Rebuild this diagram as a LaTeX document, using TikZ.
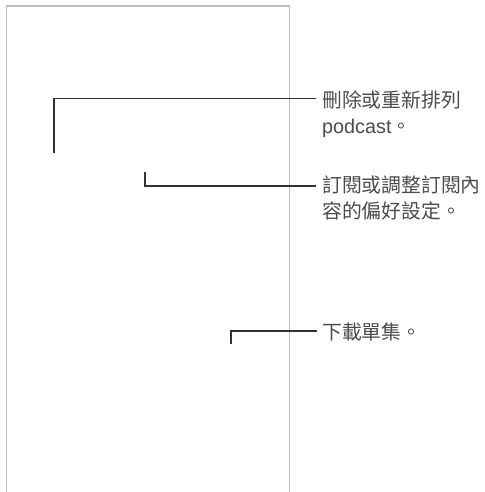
\documentclass[tikz,border=0pt]{standalone}
\usepackage{fontspec}
\setmainfont{Liberation Sans}
\newfontfamily\cjk{Noto Sans CJK TC}
\begin{document}
\begin{tikzpicture}[x=1pt,y=-1pt,
  frame/.style={draw=black!25,line width=1.3pt},
  leader/.style={draw=black!80,line width=1.6pt},
  callout/.style={inner sep=0pt,align=left,text=black!70,
    font=\fontsize{19.8}{26}\selectfont\cjk}]
\useasboundingbox (0,0) rectangle (484,492);
% device outline (open at the bottom)
\draw[frame] (6.5,492) -- (6.5,6) -- (289.5,6) -- (289.5,492);
% callout texts
\node[callout,anchor=north west] (t1) at (322,91) {刪除或重新排列\\{\rmfamily podcast}。};
\node[callout,anchor=north west] (t2) at (322,175.5) {訂閱或調整訂閱內\\容的偏好設定。};
\node[callout,anchor=base west] (t3) at (322,339) {下載單集。};
% leader coordinates
\coordinate (a1) at (54,153);
\coordinate (e1) at (316,98.5);
\coordinate (a2) at (145,172);
\coordinate (e2) at (316,186);
\coordinate (a3) at (231,344);
\coordinate (e3) at (316.5,331);
\draw[leader] (a1) |- (e1);
\draw[leader] (a2) |- (e2);
\draw[leader] (a3) |- (e3);
\end{tikzpicture}
\end{document}
